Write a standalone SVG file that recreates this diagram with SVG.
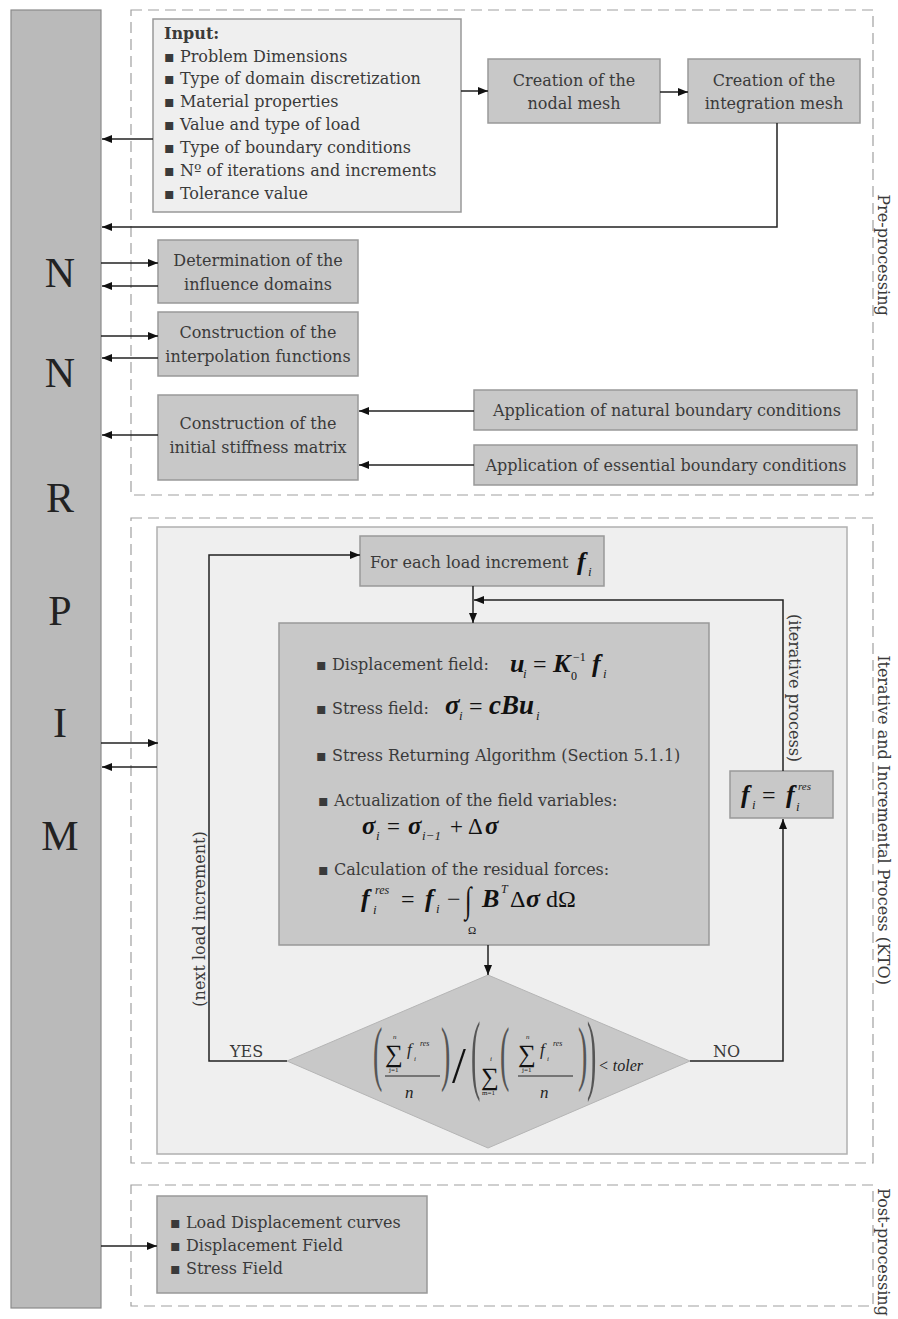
<svg xmlns="http://www.w3.org/2000/svg" width="898" height="1319" viewBox="0 0 898 1319">
<defs>
<marker id="ah" viewBox="0 0 10 8" refX="10" refY="4" markerWidth="10" markerHeight="8" markerUnits="userSpaceOnUse" orient="auto"><path d="M0,0 L10,4 L0,8 Z" fill="#111"/></marker>
<style>
.bar{fill:#bababa;stroke:#8a8a8a;stroke-width:1.2}
.box{fill:#c8c8c8;stroke:#999;stroke-width:1.5}
.lbox{fill:#efefef;stroke:#999;stroke-width:1.5}
.dash{fill:none;stroke:#a0a0a0;stroke-width:1.2;stroke-dasharray:11 6}
.t{font-family:"DejaVu Serif","Liberation Serif",serif;font-size:16px;fill:#3a3a3a}
.c{text-anchor:middle}
.big{font-family:"Liberation Serif",serif;font-size:42px;fill:#222;text-anchor:middle}
.conn{fill:none;stroke:#222;stroke-width:1.5}
.m{font-family:"Liberation Serif",serif;font-style:italic;font-weight:bold;fill:#111}
.mr{font-family:"Liberation Serif",serif;font-style:normal;font-weight:normal;fill:#111}
.s{font-family:"Liberation Serif",serif;font-style:italic;font-weight:normal;fill:#222}
.par{font-family:"Liberation Serif",serif;font-size:28px;fill:#555}
</style>
</defs>
<rect x="0" y="0" width="898" height="1319" fill="#fff"/>

<g id="frames">
<rect class="dash" x="131" y="10" width="742" height="485"/>
<rect class="dash" x="131" y="518" width="742" height="645"/>
<rect class="dash" x="131" y="1185" width="742" height="121"/>
<text class="t c" font-size="16.5" transform="translate(878,255) rotate(90)">Pre-processing</text>
<text class="t c" font-size="16.5" transform="translate(878,820) rotate(90)">Iterative and Incremental Process (KTO)</text>
<text class="t c" font-size="16.5" transform="translate(878,1252) rotate(90)">Post-processing</text>
</g>

<g id="nnrpim">
<rect class="bar" x="11" y="10" width="90" height="1298"/>
<text class="big" x="60" y="287">N</text>
<text class="big" x="60" y="387">N</text>
<text class="big" x="60" y="512">R</text>
<text class="big" x="60" y="625">P</text>
<text class="big" x="60" y="737">I</text>
<text class="big" x="60" y="850">M</text>
</g>

<g id="input">
<rect class="lbox" x="153" y="19" width="308" height="193"/>
<text class="t" x="164" y="39" font-weight="bold">Input:</text>
<text class="t" x="164" y="62">▪ Problem Dimensions</text>
<text class="t" x="164" y="84">▪ Type of domain discretization</text>
<text class="t" x="164" y="107">▪ Material properties</text>
<text class="t" x="164" y="130">▪ Value and type of load</text>
<text class="t" x="164" y="153">▪ Type of boundary conditions</text>
<text class="t" x="164" y="176">▪ Nº of iterations and increments</text>
<text class="t" x="164" y="199">▪ Tolerance value</text>
</g>

<g id="nodal-mesh">
<rect class="box" x="488" y="59" width="172" height="64"/>
<text class="t c" x="574" y="86">Creation of the</text>
<text class="t c" x="574" y="109">nodal mesh</text>
</g>
<g id="integration-mesh">
<rect class="box" x="688" y="59" width="172" height="64"/>
<text class="t c" x="774" y="86">Creation of the</text>
<text class="t c" x="774" y="109">integration mesh</text>
</g>

<g id="influence">
<rect class="box" x="158" y="240" width="200" height="63"/>
<text class="t c" x="258" y="266">Determination of the</text>
<text class="t c" x="258" y="290">influence domains</text>
</g>
<g id="interpolation">
<rect class="box" x="158" y="312" width="200" height="64"/>
<text class="t c" x="258" y="338">Construction of the</text>
<text class="t c" x="258" y="362">interpolation functions</text>
</g>
<g id="stiffness">
<rect class="box" x="158" y="395" width="200" height="85"/>
<text class="t c" x="258" y="429">Construction of the</text>
<text class="t c" x="258" y="453">initial stiffness matrix</text>
</g>
<g id="natural-bc">
<rect class="box" x="474" y="390" width="383" height="40"/>
<text class="t c" x="667" y="416">Application of natural boundary conditions</text>
</g>
<g id="essential-bc">
<rect class="box" x="474" y="445" width="383" height="40"/>
<text class="t c" x="666" y="471">Application of essential boundary conditions</text>
</g>

<g id="iterative-panel">
<rect x="157" y="527" width="690" height="627" fill="#efefef" stroke="#b0b0b0" stroke-width="1.5"/>
</g>

<g id="load-increment">
<rect class="box" x="360" y="536" width="244" height="50"/>
<text class="t" x="370" y="568">For each load increment</text>
<text class="m" x="577" y="570" font-size="26">f</text>
<text class="s" x="588" y="576" font-size="13">i</text>
</g>

<g id="main-calc">
<rect class="box" x="279" y="623" width="430" height="322"/>
<text class="t" x="316" y="670">▪ Displacement field:</text>
<text class="m" font-size="26"><tspan x="510" y="672">u</tspan><tspan class="s" font-size="13" x="523" y="678">i</tspan><tspan class="mr" font-size="24" x="533" y="672">=</tspan><tspan x="553" y="672">K</tspan><tspan class="mr" font-size="12" x="573" y="661">−1</tspan><tspan class="mr" font-size="12" x="571" y="680">0</tspan><tspan x="592" y="672">f</tspan><tspan class="s" font-size="13" x="603" y="678">i</tspan></text>

<text class="t" x="316" y="714">▪ Stress field:</text>
<text class="m" font-size="27"><tspan x="445" y="714">σ</tspan><tspan class="s" font-size="13" x="459" y="720">i</tspan><tspan class="mr" font-size="24" x="469" y="714">=</tspan><tspan x="489" y="714">cBu</tspan><tspan class="s" font-size="13" x="536" y="720">i</tspan></text>

<text class="t" x="316" y="761">▪ Stress Returning Algorithm (Section 5.1.1)</text>

<text class="t" x="318" y="806">▪ Actualization of the field variables:</text>
<text class="m" font-size="25"><tspan x="362" y="834">σ</tspan><tspan class="s" font-size="13" x="376" y="840">i</tspan><tspan class="mr" font-size="23" x="387" y="834">=</tspan><tspan x="408" y="834">σ</tspan><tspan class="s" font-size="13" x="422" y="840">i−1</tspan><tspan class="mr" font-size="23" x="450" y="834">+</tspan><tspan class="mr" font-size="23" x="468" y="834">Δ</tspan><tspan x="485" y="834">σ</tspan></text>

<text class="t" x="318" y="875">▪ Calculation of the residual forces:</text>
<text class="m" font-size="26"><tspan x="361" y="907">f</tspan><tspan class="s" font-size="12" x="375" y="894">res</tspan><tspan class="s" font-size="13" x="373" y="914">i</tspan><tspan class="mr" font-size="24" x="401" y="907">=</tspan><tspan x="425" y="907">f</tspan><tspan class="s" font-size="13" x="436" y="913">i</tspan><tspan class="mr" font-size="24" x="447" y="907">−</tspan></text>
<text class="mr" font-size="24" transform="translate(465,912) scale(1,1.5)">∫</text>
<text class="m" font-size="26"><tspan x="482" y="907">B</tspan><tspan class="s" font-size="12" x="501" y="893">T</tspan><tspan class="mr" font-size="24" x="510" y="907">Δ</tspan><tspan x="526" y="907">σ</tspan><tspan class="mr" font-size="24" x="546" y="907">dΩ</tspan></text>
<text class="mr" x="472" y="934" font-size="11" text-anchor="middle">Ω</text>
</g>

<g id="update">
<rect class="box" x="730" y="771" width="103" height="47"/>
<text class="m" font-size="26"><tspan x="741" y="803">f</tspan><tspan class="s" font-size="13" x="752" y="809">i</tspan><tspan class="mr" font-size="24" x="762" y="803">=</tspan><tspan x="786" y="803">f</tspan><tspan class="s" font-size="11" x="798" y="790">res</tspan><tspan class="s" font-size="13" x="796" y="811">i</tspan></text>
</g>

<g id="convergence">
<polygon points="488,975 690,1061 488,1148 287,1061" fill="#c8c8c8" stroke="#b5b5b5" stroke-width="1"/>
<text class="par" transform="translate(373,1077) scale(1,2.6)">(</text>
<text class="mr" x="385" y="1062" font-size="25">∑</text>
<text class="s" x="393" y="1039" font-size="7">n</text>
<text class="mr" x="389" y="1072" font-size="7">j=1</text>
<text class="s" x="407" y="1055" font-size="17">f</text>
<text class="s" x="414" y="1061" font-size="7">i</text>
<text class="s" x="420" y="1046" font-size="8">res</text>
<line x1="385" y1="1076" x2="440" y2="1076" stroke="#222" stroke-width="1.2"/>
<text class="s" x="405" y="1098" font-size="17">n</text>
<text class="par" transform="translate(441,1077) scale(1,2.6)">)</text>
<text class="mr" x="452" y="1082" font-size="50" fill="#222">/</text>
<text class="par" transform="translate(471,1083) scale(1,3.2)">(</text>
<text class="mr" x="481" y="1085" font-size="25">∑</text>
<text class="s" x="490" y="1061" font-size="7">i</text>
<text class="mr" x="482" y="1095" font-size="7">m=1</text>
<text class="par" transform="translate(500,1077) scale(1,2.6)">(</text>
<text class="mr" x="518" y="1062" font-size="25">∑</text>
<text class="s" x="526" y="1039" font-size="7">n</text>
<text class="mr" x="522" y="1072" font-size="7">j=1</text>
<text class="s" x="540" y="1055" font-size="17">f</text>
<text class="s" x="547" y="1061" font-size="7">i</text>
<text class="s" x="553" y="1046" font-size="8">res</text>
<line x1="518" y1="1076" x2="573" y2="1076" stroke="#222" stroke-width="1.2"/>
<text class="s" x="540" y="1098" font-size="17">n</text>
<text class="par" transform="translate(578,1077) scale(1,2.6)">)</text>
<text class="par" transform="translate(587,1083) scale(1,3.2)">)</text>
<text class="s" x="598" y="1071" font-size="16">&lt; toler</text>
</g>

<g id="output">
<rect class="box" x="157" y="1196" width="270" height="97"/>
<text class="t" x="170" y="1228">▪ Load Displacement curves</text>
<text class="t" x="170" y="1251">▪ Displacement Field</text>
<text class="t" x="170" y="1274">▪ Stress Field</text>
</g>

<g id="connectors">
<line class="conn" x1="461" y1="91" x2="488" y2="91" marker-end="url(#ah)"/>
<line class="conn" x1="660" y1="92" x2="688" y2="92" marker-end="url(#ah)"/>
<line class="conn" x1="153" y1="139" x2="102" y2="139" marker-end="url(#ah)"/>
<polyline class="conn" points="777,123 777,227 102,227" marker-end="url(#ah)"/>
<line class="conn" x1="101" y1="263" x2="158" y2="263" marker-end="url(#ah)"/>
<line class="conn" x1="158" y1="286" x2="102" y2="286" marker-end="url(#ah)"/>
<line class="conn" x1="101" y1="336" x2="158" y2="336" marker-end="url(#ah)"/>
<line class="conn" x1="158" y1="358" x2="102" y2="358" marker-end="url(#ah)"/>
<line class="conn" x1="158" y1="435" x2="102" y2="435" marker-end="url(#ah)"/>
<line class="conn" x1="474" y1="411" x2="359" y2="411" marker-end="url(#ah)"/>
<line class="conn" x1="474" y1="465" x2="359" y2="465" marker-end="url(#ah)"/>
<line class="conn" x1="101" y1="743" x2="158" y2="743" marker-end="url(#ah)"/>
<line class="conn" x1="157" y1="767" x2="102" y2="767" marker-end="url(#ah)"/>
<line class="conn" x1="473" y1="586" x2="473" y2="623" marker-end="url(#ah)"/>
<polyline class="conn" points="783,771 783,600 474,600" marker-end="url(#ah)"/>
<line class="conn" x1="488" y1="945" x2="488" y2="975" marker-end="url(#ah)"/>
<polyline class="conn" points="287,1061 209,1061 209,555 360,555" marker-end="url(#ah)"/>
<polyline class="conn" points="690,1061 783,1061 783,819" marker-end="url(#ah)"/>
<line class="conn" x1="101" y1="1246" x2="157" y2="1246" marker-end="url(#ah)"/>
<text class="t" x="230" y="1057">YES</text>
<text class="t" x="713" y="1057">NO</text>
<text class="t c" font-size="14" transform="translate(789,688) rotate(90)">(iterative process)</text>
<text class="t c" font-size="14" transform="translate(205,919) rotate(-90)">(next load increment)</text>
</g>
</svg>
